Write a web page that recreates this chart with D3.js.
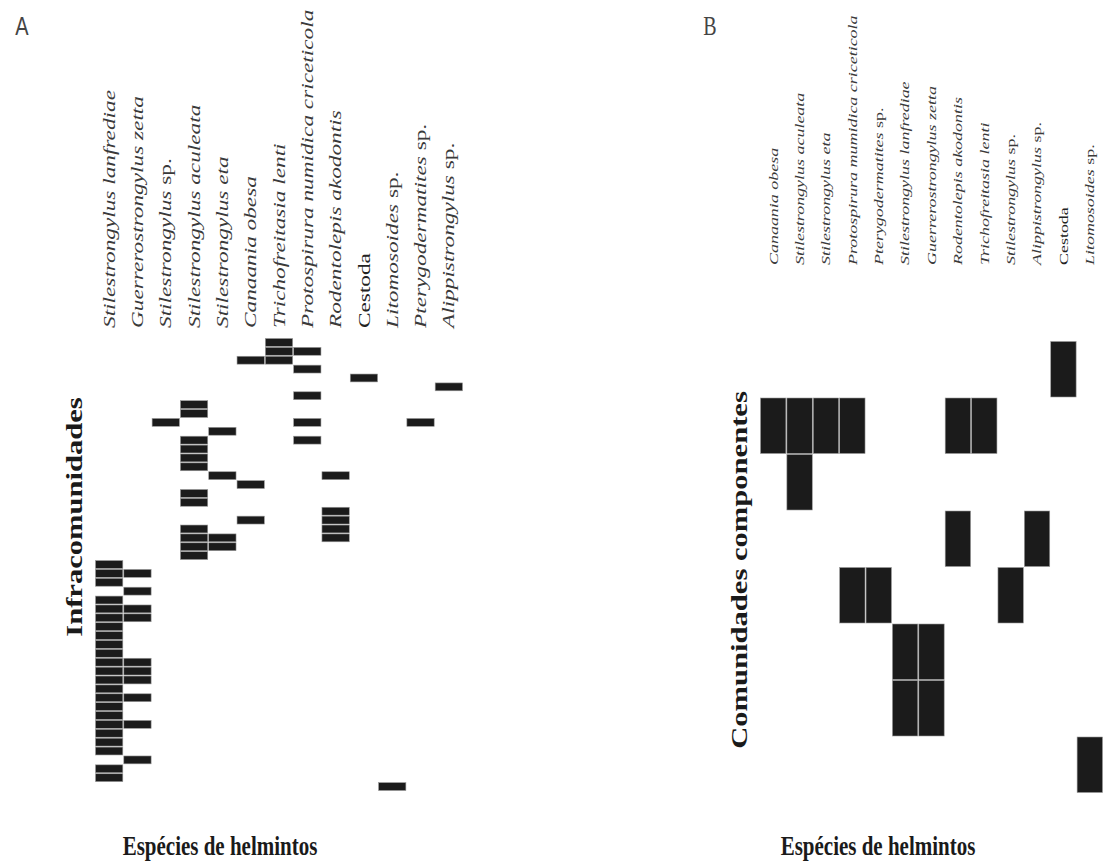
<!DOCTYPE html>
<html>
<head>
<meta charset="utf-8">
<script src="https://cdnjs.cloudflare.com/ajax/libs/d3/7.8.5/d3.min.js"></script>
<style>
    body { margin: 0; background: #fff; }
    svg { display: block; }
</style>
</head>
<body>
<svg class="matrix-svg" width="1108" height="864"></svg>
<script>
// panel A - infracommunities (rows) x helminth species (columns)
var speciesA = ["Stilestrongylus lanfrediae", "Guerrerostrongylus zetta", "Stilestrongylus sp.",
    "Stilestrongylus aculeata", "Stilestrongylus eta", "Canaania obesa", "Trichofreitasia lenti",
    "Protospirura numidica criceticola", "Rodentolepis akodontis", "Cestoda", "Litomosoides sp.",
    "Pterygodermatites sp.", "Alippistrongylus sp."];
var nInfra = 51;
// infracommunity index (0 = top) where each species of speciesA occurs
var infraOccurrences = [
    [25, 26, 27, 29, 30, 31, 32, 33, 34, 35, 36, 37, 38, 39, 40, 41, 42, 43, 44, 45, 46, 48, 49],
    [26, 28, 30, 31, 36, 37, 38, 40, 43, 47],
    [9],
    [7, 8, 11, 12, 13, 14, 17, 18, 21, 22, 23, 24],
    [10, 15, 22, 23],
    [2, 16, 20],
    [0, 1, 2],
    [1, 3, 6, 9, 11],
    [15, 19, 20, 21, 22],
    [4],
    [50],
    [9],
    [5]
];

// panel B - component communities x helminth species
var speciesB = ["Canaania obesa", "Stilestrongylus aculeata", "Stilestrongylus eta",
    "Protospirura mumidica criceticola", "Pterygodermatites sp.", "Stilestrongylus lanfrediae",
    "Guerrerostrongylus zetta", "Rodentolepis akodontis", "Trichofreitasia lenti",
    "Stilestrongylus sp.", "Alippistrongylus sp.", "Cestoda", "Litomosoides sp."];
var nComponent = 8;
var componentOccurrences = [
    [1], [1, 2], [1], [1, 4], [4], [5, 6], [5, 6], [1, 3], [1], [4], [3], [0], [7]
];

var svg = d3.select(".matrix-svg");
var stretch = 1.33;   // the figure is drawn taller than wide

function cells(species, occ) {
    var out = [];
    species.forEach(function(s, i) {
        occ[i].forEach(function(r) { out.push({ species: s, row: r }); });
    });
    return out;
}

// species name: genus/epithet in italic, "sp." and Cestoda upright
function writeName(sel, name) {
    if (name === "Cestoda") {
        sel.append("tspan").attr("font-style", "normal").attr("fill", "#222").text(name);
        return;
    }
    if (/ sp\.$/.test(name)) {
        sel.append("tspan").attr("font-style", "italic").text(name.replace(/ sp\.$/, " "));
        sel.append("tspan").attr("font-style", "normal").text("sp.");
        return;
    }
    sel.append("tspan").attr("font-style", "italic").text(name);
}

function drawPanel(opt) {
    var g = svg.append("g").attr("class", "panel");

    var x = d3.scaleBand()
        .domain(opt.species)
        .range([opt.left, opt.right]);

    var y = d3.scaleBand()
        .domain(d3.range(opt.nRows))
        .range([opt.top, opt.bottom]);

    g.append("g")
        .selectAll("rect")
        .data(cells(opt.species, opt.occ))
        .enter().append("rect")
        .attr("x", function(d) { return x(d.species) + 0.5; })
        .attr("y", function(d) { return y(d.row) + 0.5; })
        .attr("width", x.bandwidth() - 1)
        .attr("height", y.bandwidth() - 1)
        .attr("fill", "#1b1b1b")
        .attr("stroke", "#9a9a9a")
        .attr("stroke-width", 0.6);

    g.append("g")
        .selectAll("text")
        .data(opt.species)
        .enter().append("text")
        .attr("transform", function(d) {
            return "translate(" + (x(d) + x.bandwidth() / 2) + "," + opt.labelBottom + ") scale(1," + stretch + ") rotate(-90)";
        })
        .attr("dy", "0.32em")
        .attr("font-family", "Liberation Serif, Times New Roman, serif")
        .attr("font-size", opt.labelSize)
        .attr("fill", "#3a3a3a")
        .each(function(d) { writeName(d3.select(this), d); });

    // axis titles
    g.append("text")
        .attr("transform", "translate(" + opt.yTitleX + "," + opt.yTitleY + ") scale(1," + stretch + ") rotate(-90)")
        .attr("text-anchor", "middle")
        .attr("font-family", "Liberation Serif, serif")
        .attr("font-weight", "bold")
        .attr("font-size", 23)
        .attr("fill", "#1a1a1a")
        .text(opt.yTitle);

    g.append("text")
        .attr("transform", "translate(" + opt.xTitleX + ",855) scale(1," + stretch + ")")
        .attr("text-anchor", "middle")
        .attr("font-family", "Liberation Serif, serif")
        .attr("font-weight", "bold")
        .attr("font-size", 21)
        .attr("fill", "#1a1a1a")
        .text("Espécies de helmintos");

    g.append("text")
        .attr("transform", "translate(" + opt.letterX + ",35) scale(1," + stretch + ")")
        .attr("text-anchor", "middle")
        .attr("font-family", opt.letterFont)
        .attr("font-size", 20)
        .attr("fill", "#444")
        .text(opt.letter);
}

drawPanel({
    species: speciesA, occ: infraOccurrences, nRows: nInfra,
    left: 95, right: 463, top: 338, bottom: 791,
    labelBottom: 328, labelSize: 17.5,
    yTitle: "Infracomunidades", yTitleX: 82, yTitleY: 517,
    xTitleX: 220, letter: "A", letterX: 22, letterFont: "Liberation Sans, Arial, sans-serif"
});

drawPanel({
    species: speciesB, occ: componentOccurrences, nRows: nComponent,
    left: 760, right: 1103, top: 341, bottom: 793,
    labelBottom: 265, labelSize: 13.5,
    yTitle: "Comunidades componentes", yTitleX: 747, yTitleY: 570,
    xTitleX: 878, letter: "B", letterX: 710, letterFont: "Liberation Serif, serif"
});
</script>
</body>
</html>
